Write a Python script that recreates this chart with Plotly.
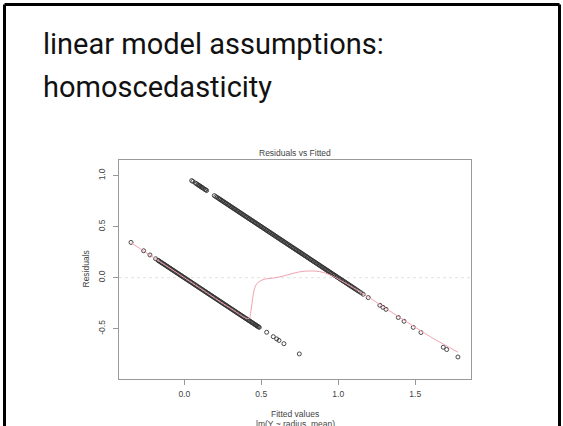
import plotly.graph_objects as go

# ---- data ----
# fitted values of observations with Y = 0 (residual = 0 - fitted)
fitted_y0 = [-0.346, -0.264, -0.223, -0.186,
             -0.170, -0.166, -0.159, -0.152, -0.147, -0.140, -0.133, -0.128, -0.121, -0.114,
             -0.109, -0.102, -0.095, -0.090, -0.083, -0.076, -0.071, -0.064, -0.057, -0.052,
             -0.045, -0.038, -0.033, -0.026, -0.019, -0.014, -0.007, 0.000, 0.005, 0.012,
             0.019, 0.024, 0.031, 0.038, 0.043, 0.050, 0.057, 0.062, 0.069, 0.076, 0.081,
             0.088, 0.095, 0.100, 0.107, 0.114, 0.119, 0.126, 0.133, 0.138, 0.145, 0.152,
             0.157, 0.164, 0.171, 0.176, 0.183, 0.190, 0.195, 0.202, 0.209, 0.214, 0.221,
             0.228, 0.233, 0.240, 0.247, 0.252, 0.259, 0.266, 0.271, 0.278, 0.285, 0.290,
             0.297, 0.304, 0.309, 0.316, 0.323, 0.328, 0.335, 0.342, 0.347, 0.354, 0.361,
             0.366, 0.373, 0.380, 0.385, 0.392, 0.399, 0.404, 0.411, 0.418, 0.423, 0.430,
             0.437, 0.442, 0.449, 0.456, 0.461, 0.467, 0.472, 0.477, 0.482, 0.487,
             0.535, 0.578, 0.600, 0.615, 0.647, 0.747]
# fitted values of observations with Y = 1 (residual = 1 - fitted)
fitted_y1 = [0.048, 0.056, 0.072, 0.080, 0.088, 0.095, 0.100, 0.106, 0.112, 0.117, 0.125,
             0.134, 0.139, 0.145, 0.195, 0.205, 0.213,
             0.222, 0.229, 0.234, 0.241, 0.248, 0.253, 0.260, 0.267, 0.272, 0.279, 0.286,
             0.291, 0.298, 0.305, 0.310, 0.317, 0.324, 0.329, 0.336, 0.343, 0.348, 0.355,
             0.362, 0.367, 0.374, 0.381, 0.386, 0.393, 0.400, 0.405, 0.412, 0.419, 0.424,
             0.431, 0.438, 0.443, 0.450, 0.457, 0.462, 0.469, 0.476, 0.481, 0.488, 0.495,
             0.500, 0.507, 0.514, 0.519, 0.526, 0.533, 0.538, 0.545, 0.552, 0.557, 0.564,
             0.571, 0.576, 0.583, 0.590, 0.595, 0.602, 0.609, 0.614, 0.621, 0.628, 0.633,
             0.640, 0.647, 0.652, 0.659, 0.666, 0.671, 0.678, 0.685, 0.690, 0.697, 0.704,
             0.709, 0.716, 0.723, 0.728, 0.735, 0.742, 0.747, 0.754, 0.761, 0.766, 0.773,
             0.780, 0.785, 0.792, 0.799, 0.804, 0.811, 0.818, 0.823, 0.830, 0.837, 0.842,
             0.849, 0.856, 0.861, 0.868, 0.875, 0.880, 0.887, 0.894, 0.899, 0.906, 0.913,
             0.918, 0.925, 0.932, 0.937, 0.944, 0.951, 0.956, 0.963, 0.970, 0.975, 0.982,
             0.989, 0.994, 1.001, 1.008, 1.013, 1.020, 1.027, 1.032, 1.039, 1.046, 1.051,
             1.058, 1.065, 1.070, 1.077, 1.084, 1.089, 1.096, 1.103, 1.110, 1.118, 1.127,
             1.136, 1.148,
             1.162, 1.195, 1.270, 1.290, 1.310, 1.390, 1.427, 1.487, 1.537, 1.682, 1.704, 1.777]

# lowess smooth curve
smooth_x = [-0.346, -0.10, 0.10, 0.30, 0.42, 0.432, 0.44, 0.448, 0.458, 0.47, 0.49, 0.52,
            0.578, 0.64, 0.70, 0.75, 0.816, 0.88, 0.946, 0.99, 1.14, 1.40, 1.60, 1.777]
smooth_y = [0.343, 0.10, -0.10, -0.30, -0.40, -0.33, -0.25, -0.16, -0.10, -0.06, -0.035, -0.015,
            -0.003, 0.015, 0.04, 0.058, 0.066, 0.06, 0.028, -0.005, -0.137, -0.39, -0.58, -0.73]

x_ticks = [0.0, 0.5, 1.0, 1.5]
x_tick_labels = ["0.0", "0.5", "1.0", "1.5"]
y_ticks = [-0.5, 0.0, 0.5, 1.0]
y_tick_labels = ["-0.5", "0.0", "0.5", "1.0"]

slide_title = ["linear model assumptions:", "homoscedasticity"]
plot_title = "Residuals vs Fitted"
x_title = "Fitted values"
x_subtitle = "lm(Y ~ radius_mean)"
y_title = "Residuals"

# ---- figure ----
fitted_all = fitted_y0 + fitted_y1
resid_all = [0 - f for f in fitted_y0] + [1 - f for f in fitted_y1]

W, H = 563, 426
L, R, T, B = 119, 92, 160, 47
pw, ph = W - L - R, H - T - B

def px_to_paper_x(px):
    return (px - L) / pw

def px_to_paper_y(py):
    return (H - B - py) / ph

fig = go.Figure()

fig.add_trace(go.Scatter(
    x=fitted_all, y=resid_all, mode="markers",
    marker=dict(symbol="circle-open", size=4, color="#333333", line=dict(width=0.9)),
    showlegend=False, hoverinfo="skip"))

fig.add_trace(go.Scatter(
    x=smooth_x, y=smooth_y, mode="lines", line=dict(color="#f2a3b0", width=1, shape="spline"),
    showlegend=False, hoverinfo="skip"))

axis_common = dict(showgrid=False, zeroline=False, showline=True, linecolor="#999999",
                   linewidth=1, mirror=True, ticks="outside", ticklen=5, tickcolor="#999999",
                   tickfont=dict(family="Liberation Sans", size=8.5, color="#444"))

fig.update_layout(
    width=W, height=H,
    margin=dict(l=L, r=R, t=T, b=B),
    paper_bgcolor="white", plot_bgcolor="white",
    xaxis=dict(range=[-0.424, 1.862], tickvals=x_ticks, ticktext=x_tick_labels,
               ticklabelstandoff=2, **axis_common),
    yaxis=dict(range=[-0.993, 1.154], tickvals=y_ticks, ticktext=y_tick_labels,
               tickangle=-90, ticklabelstandoff=5, **axis_common),
)

# dotted zero line
fig.add_shape(type="line", xref="paper", yref="y", x0=0, x1=1, y0=0, y1=0,
              line=dict(color="#e2e2e2", width=1, dash="dot"), layer="below")

# slide border (top, left, right)
bx0 = px_to_paper_x(4.5)
bx1 = px_to_paper_x(559.5)
by_top = px_to_paper_y(4.5)
by_bot = px_to_paper_y(440)
for (xa, xb, ya, yb) in [(bx0, bx1, by_top, by_top), (bx0, bx0, by_top, by_bot), (bx1, bx1, by_top, by_bot)]:
    fig.add_shape(type="line", xref="paper", yref="paper", x0=xa, x1=xb, y0=ya, y1=yb,
                  line=dict(color="black", width=3))

# slide title lines
for txt, cy in zip(slide_title, [44, 87]):
    fig.add_annotation(text=txt, xref="paper", yref="paper", x=px_to_paper_x(41),
                       y=px_to_paper_y(cy), xanchor="left", yanchor="middle", showarrow=False,
                       font=dict(family="Roboto", size=29, color="#111"))

# plot title
fig.add_annotation(text=plot_title, xref="paper", yref="paper", x=0.5, y=px_to_paper_y(152.5),
                   xanchor="center", yanchor="middle", showarrow=False,
                   font=dict(family="Liberation Sans", size=8.5, color="#444"))
# axis titles
fig.add_annotation(text=x_title, xref="paper", yref="paper", x=0.5, y=px_to_paper_y(414),
                   xanchor="center", yanchor="middle", showarrow=False,
                   font=dict(family="Liberation Sans", size=8.5, color="#444"))
fig.add_annotation(text=x_subtitle, xref="paper", yref="paper", x=0.5, y=px_to_paper_y(424),
                   xanchor="center", yanchor="middle", showarrow=False,
                   font=dict(family="Liberation Sans", size=8.5, color="#444"))
fig.add_annotation(text=y_title, xref="paper", yref="paper", x=px_to_paper_x(85), y=0.5,
                   xanchor="center", yanchor="middle", showarrow=False, textangle=-90,
                   font=dict(family="Liberation Sans", size=8.5, color="#444"))

fig.write_html("out.html", config={"displayModeBar": False},
               post_script="document.body.style.margin='0';")
